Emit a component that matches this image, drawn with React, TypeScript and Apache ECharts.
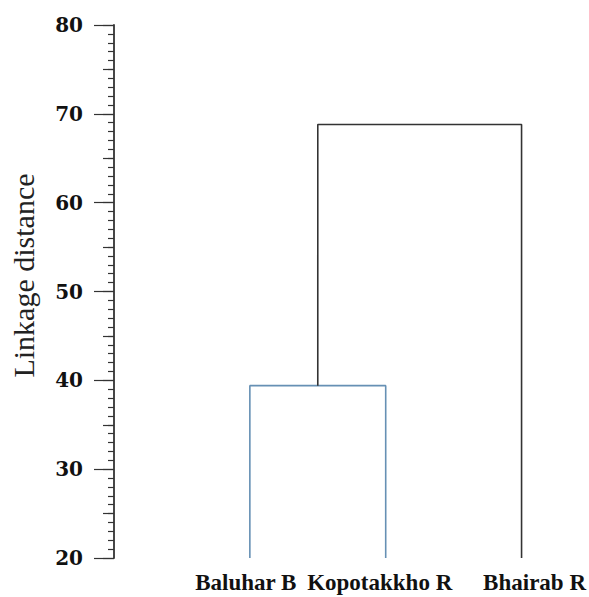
import React, { useEffect, useRef } from "react";
import * as echarts from "echarts";

const leaves = ["Baluhar B", "Kopotakkho R", "Bhairab R"];
const leafBase = 20;
const mergeHeights = [39.4, 68.8];
const yTicks = [20, 30, 40, 50, 60, 70, 80];
const labelShift = [-4, -6, 13];

export default function App() {
  const ref = useRef<HTMLDivElement>(null);
  useEffect(() => {
    document.body.style.margin = "0";
    const chart = echarts.init(ref.current!, undefined, { renderer: "svg" });
    const x1 = 1, x2 = 2, x3 = 3;
    const h1 = mergeHeights[0], h2 = mergeHeights[1];
    const mid12 = (x1 + x2) / 2;
    const link1 = [[x1, leafBase], [x1, h1], [x2, h1], [x2, leafBase]];
    const link2 = [[mid12, h1], [mid12, h2], [x3, h2], [x3, leafBase]];
    const rich: any = {};
    leaves.forEach((_, i) => {
      const s = labelShift[i];
      rich["l" + i] = {
        fontFamily: "Liberation Serif",
        fontWeight: "bold",
        fontSize: 23,
        color: "#111",
        padding: s < 0 ? [0, -2 * s, 0, 0] : [0, 0, 0, 2 * s],
      };
    });
    chart.setOption({
      animation: false,
      backgroundColor: "#ffffff",
      grid: { left: 114, top: 25, bottom: 39, right: 12.6 },
      xAxis: {
        type: "value",
        min: 0,
        max: 3.4,
        interval: 1,
        axisLine: { show: false },
        axisTick: { show: false },
        splitLine: { show: false },
        axisLabel: {
          margin: 13,
          showMaxLabel: false,
          showMinLabel: false,
          formatter: (v: number) => {
            const i = Math.round(v) - 1;
            if (i < 0 || i >= leaves.length || Math.abs(v - Math.round(v)) > 1e-6) return "";
            return "{l" + i + "|" + leaves[i] + "}";
          },
          rich,
        },
      },
      yAxis: [
        {
          type: "value",
          min: yTicks[0],
          max: yTicks[yTicks.length - 1],
          interval: 10,
          position: "left",
          name: "Linkage distance",
          nameLocation: "middle",
          nameRotate: 90,
          nameGap: 76,
          nameTextStyle: {
            fontFamily: "Liberation Serif",
            fontSize: 30,
            color: "#222",
            padding: [0, 0, 0, 32],
          },
          axisLine: { show: true, lineStyle: { color: "#333", width: 1.8 } },
          axisTick: { show: true, length: 20, lineStyle: { color: "#333", width: 1.2 } },
          minorTick: { show: true, splitNumber: 10, length: 6, lineStyle: { color: "#333", width: 1.2 } },
          splitLine: { show: false },
          minorSplitLine: { show: false },
          axisLabel: {
            margin: 31,
            fontFamily: "DejaVu Serif",
            fontWeight: "bold",
            fontSize: 20,
            color: "#111",
          },
        },
        {
          type: "value",
          min: yTicks[0],
          max: yTicks[yTicks.length - 1],
          interval: 5,
          position: "left",
          axisLine: { show: false },
          axisTick: { show: true, length: 11, lineStyle: { color: "#333", width: 1.2 } },
          axisLabel: { show: false },
          splitLine: { show: false },
        },
      ],
      series: [
        {
          type: "line",
          data: link1,
          symbol: "none",
          lineStyle: { color: "#6690b4", width: 1.6 },
          z: 2,
        },
        {
          type: "line",
          data: link2,
          symbol: "none",
          lineStyle: { color: "#333333", width: 1.6 },
          z: 3,
        },
      ],
    });
    return () => chart.dispose();
  }, []);
  return (
    <div
      ref={ref}
      style={{ position: "fixed", left: 0, top: 0, width: 589, height: 597 }}
    />
  );
}
